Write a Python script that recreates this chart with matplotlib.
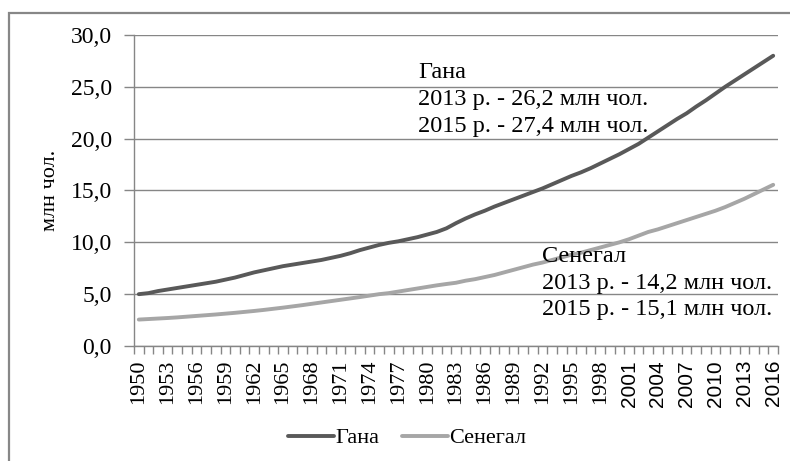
import matplotlib
matplotlib.use("Agg")
import matplotlib.pyplot as plt
from matplotlib.patches import Rectangle
from matplotlib.ticker import FuncFormatter, FixedLocator

# population, million people
years = list(range(1950, 2017))
ghana = [
    5.0, 5.1, 5.3, 5.45, 5.6, 5.75, 5.9, 6.05, 6.2, 6.4,
    6.6, 6.85, 7.1, 7.3, 7.5, 7.7, 7.85, 8.0, 8.15, 8.3,
    8.5, 8.7, 8.95, 9.25, 9.5, 9.75, 9.95, 10.1, 10.3, 10.5,
    10.75, 11.0, 11.35, 11.85, 12.3, 12.7, 13.05, 13.45, 13.8, 14.15,
    14.5, 14.85, 15.2, 15.6, 16.0, 16.4, 16.75, 17.15, 17.6, 18.05,
    18.5, 19.0, 19.5, 20.1, 20.7, 21.3, 21.9, 22.45, 23.1, 23.7,
    24.35, 25.0, 25.6, 26.2, 26.8, 27.4, 28.0,
]
senegal = [
    2.55, 2.6, 2.65, 2.7, 2.76, 2.83, 2.9, 2.97, 3.04, 3.12,
    3.2, 3.29, 3.38, 3.48, 3.59, 3.7, 3.82, 3.94, 4.07, 4.2,
    4.33, 4.46, 4.59, 4.72, 4.86, 5.0, 5.1, 5.25, 5.4, 5.55,
    5.7, 5.85, 5.98, 6.1, 6.3, 6.45, 6.65, 6.85, 7.1, 7.35,
    7.6, 7.85, 8.05, 8.3, 8.55, 8.8, 9.0, 9.25, 9.5, 9.75,
    10.0, 10.3, 10.65, 11.0, 11.25, 11.55, 11.85, 12.15, 12.45, 12.75,
    13.05, 13.4, 13.8, 14.2, 14.65, 15.1, 15.55,
]
series_names = ["Гана", "Сенегал"]
ghana_note = ["Гана", "2013 р. - 26,2 млн чол.", "2015 р. - 27,4 млн чол."]
senegal_note = ["Сенегал", "2013 р. - 14,2 млн чол.", "2015 р. - 15,1 млн чол."]

plt.rcParams["font.family"] = ["Liberation Serif", "DejaVu Serif"]

W, H = 790, 461
fig = plt.figure(figsize=(W / 100, H / 100), dpi=100)
ax = fig.add_axes([134 / W, 1 - 346 / H, (778 - 134) / W, (346 - 35) / H])

x = list(range(len(years)))
ax.plot(x, ghana, color="#595959", lw=2.8, solid_capstyle="round", label=series_names[0], zorder=3)
ax.plot(x, senegal, color="#a6a6a6", lw=2.8, solid_capstyle="round", label=series_names[1], zorder=3)

ax.set_xlim(-0.5, len(years) - 0.5)
ax.set_ylim(0, 30)
ax.set_yticks([0, 5, 10, 15, 20, 25, 30])
ax.yaxis.set_major_formatter(FuncFormatter(lambda v, p: f"{v:.1f}".replace(".", ",")))
ax.grid(axis="y", color="#868686", lw=1)
ax.set_axisbelow(True)

for s in ["top", "right"]:
    ax.spines[s].set_visible(False)
for s in ["left", "bottom"]:
    ax.spines[s].set_color("#868686")
    ax.spines[s].set_linewidth(1)

# category axis: ticks between categories, label every third year
lab_idx = list(range(0, len(years), 3))
ax.set_xticks(lab_idx)
ax.set_xticklabels([str(years[i]) for i in lab_idx], rotation=90, fontsize=16)
ax.xaxis.set_minor_locator(FixedLocator([i - 0.5 for i in range(len(years) + 1)]))
ax.tick_params(axis="x", which="major", length=0, pad=10)
ax.tick_params(axis="x", which="minor", length=6, color="#868686", width=1)
ax.tick_params(axis="y", length=7, color="#868686", width=1, pad=9, labelsize=17)
for lbl in ax.get_xticklabels():
    if int(lbl.get_text()) >= 2001:
        lbl.set_family(["Liberation Sans"])
        lbl.set_fontsize(15)

ax.set_ylabel("млн чол.", fontsize=16)
ax.yaxis.set_label_coords(-0.115, 0.5)

# annotations
for k, t in enumerate(ghana_note):
    fig.text(418 / W, 1 - (78 + 27 * k) / H, t, fontsize=17.5, va="baseline")
for k, t in enumerate(senegal_note):
    fig.text(542 / W, 1 - (262 + 26.5 * k) / H, t, fontsize=17.5, va="baseline")

fig.legend(loc="center", bbox_to_anchor=(407 / W, 1 - 438 / H), ncol=2, frameon=False,
           fontsize=16, handlelength=2.1, handletextpad=0.05, columnspacing=1.0)

# outer chart border (only left and top visible in the crop)
fig.patches.append(Rectangle((9 / W, -0.2), 1.2, 1.2 - 13 / H, transform=fig.transFigure,
                             fill=False, edgecolor="#878787", lw=1.6, zorder=0))

fig.savefig("out.png", dpi=100)
